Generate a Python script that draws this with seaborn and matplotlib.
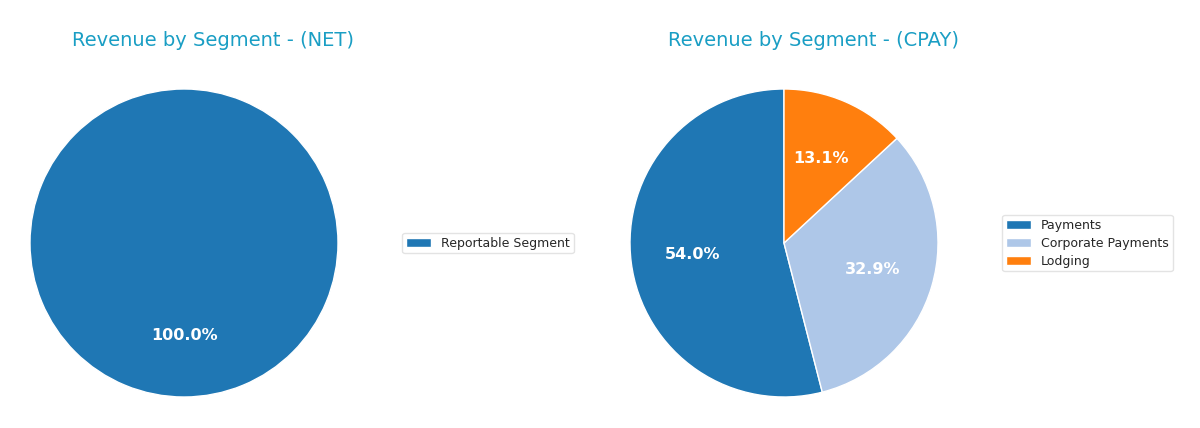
import matplotlib
matplotlib.use("Agg")
import matplotlib.pyplot as plt
import seaborn as sns

# data
net_labels = ["Reportable Segment"]
net_values = [100.0]

cpay_labels = ["Payments", "Corporate Payments", "Lodging"]
cpay_values = [54.0, 32.9, 13.1]

sns.set_style("white")
plt.rcParams["font.family"] = ["DejaVu Sans"]
pal = sns.color_palette("tab20")
net_colors = [pal[0]]
cpay_colors = [pal[0], pal[1], pal[2]]

W, H = 1200, 428
fig = plt.figure(figsize=(W / 100, H / 100), dpi=100)
title_color = "#1a9ec4"
lim = 1.02


def add_pie(cx, cy, r, values, labels, colors, title, title_x, leg_x):
    # cx, cy, r in pixels (cy from top)
    side = 2 * r * lim
    ax = fig.add_axes([(cx - side / 2) / W, (H - cy - side / 2) / H, side / W, side / H])
    wedges, _, autotexts = ax.pie(values, colors=colors, startangle=90,
                                  autopct="%1.1f%%", pctdistance=0.6,
                                  textprops=dict(color="white", fontsize=11.5, fontweight="bold"))
    ax.set_xlim(-lim, lim)
    ax.set_ylim(-lim, lim)
    ax.set_aspect("equal")
    fig.text(title_x / W, 1 - 40 / H, title, color=title_color, fontsize=14,
             ha="center", va="center")
    fig.legend(wedges, labels, loc="center left", bbox_to_anchor=(leg_x / W, 1 - 243 / H),
               fontsize=9, frameon=True, edgecolor="#dddddd", fancybox=True,
               handlelength=2.0, borderpad=0.3, labelspacing=0.4)
    return ax


add_pie(184, 243, 154, net_values, net_labels, net_colors,
        "Revenue by Segment - (NET)", 213, 396)
add_pie(784, 243, 154, cpay_values, cpay_labels, cpay_colors,
        "Revenue by Segment - (CPAY)", 814, 996)

fig.savefig("out.png", dpi=100)
